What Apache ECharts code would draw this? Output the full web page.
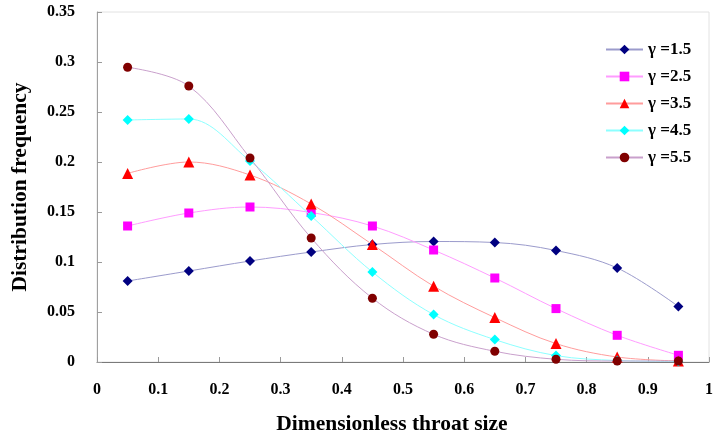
<!DOCTYPE html>
<html>
<head>
<meta charset="utf-8">
<script src="https://cdn.jsdelivr.net/npm/echarts@6/dist/echarts.min.js"></script>
<style>
  html, body { margin: 0; padding: 0; background: #fff; }
  #chart { width: 713px; height: 437px; }
</style>
</head>
<body>
<div id="chart"></div>
<script>
// Dimensionless throat size (bin centres)
const throatSize = [0.05, 0.15, 0.25, 0.35, 0.45, 0.55, 0.65, 0.75, 0.85, 0.95];

// Distribution frequency for each shape parameter gamma
const gamma15 = [0.081, 0.091, 0.101, 0.110, 0.1175, 0.1205, 0.1195, 0.1115, 0.094, 0.0555];
const gamma25 = [0.136, 0.149, 0.155, 0.1495, 0.136, 0.112, 0.084, 0.0534, 0.0267, 0.0067];
const gamma35 = [0.1886, 0.200, 0.187, 0.158, 0.1175, 0.0758, 0.0444, 0.0184, 0.005, 0.001];
const gamma45 = [0.242, 0.243, 0.201, 0.146, 0.090, 0.0474, 0.0224, 0.0064, 0.0015, 0.0005];
const gamma55 = [0.2947, 0.276, 0.204, 0.124, 0.0638, 0.0277, 0.0107, 0.0027, 0.001, 0.001];

const seriesNames = ['γ =1.5', 'γ =2.5', 'γ =3.5', 'γ =4.5', 'γ =5.5'];

const xTicks = { min: 0, max: 1, interval: 0.1 };
const yTicks = { min: 0, max: 0.35, interval: 0.05 };

const serif = '"Liberation Serif", "DejaVu Serif", serif';

const styles = [
  { marker: '#000080', line: '#9b9bcc', symbol: 'diamond', size: 10 },
  { marker: '#ff00ff', line: '#ff9cff', symbol: 'rect', size: 9 },
  { marker: '#ff0000', line: '#ff9c9c', symbol: 'triangle', size: 11 },
  { marker: '#00ffff', line: '#8cffff', symbol: 'diamond', size: 10 },
  { marker: '#800000', line: '#c9a0cc', symbol: 'circle', size: 9 }
];

const allValues = [gamma15, gamma25, gamma35, gamma45, gamma55];

const chart = echarts.init(document.getElementById('chart'), null, { renderer: 'canvas' });

chart.setOption({
  animation: false,
  backgroundColor: '#ffffff',
  grid: {
    left: 97, right: 4, top: 12, bottom: 75,
    outerBoundsMode: 'none',
    containLabel: false,
    show: true, borderColor: '#e2e2e2', borderWidth: 1, backgroundColor: 'transparent'
  },
  legend: {
    orient: 'vertical',
    left: 600,
    top: 36,
    itemWidth: 37,
    itemHeight: 12,
    itemGap: 10,
    textStyle: { fontFamily: serif, fontWeight: 'bold', fontSize: 17, color: '#000' },
    data: seriesNames
  },
  xAxis: {
    type: 'value',
    min: xTicks.min, max: xTicks.max, interval: xTicks.interval,
    name: 'Dimensionless throat size',
    nameLocation: 'middle',
    nameGap: 51,
    nameTextStyle: {
      fontFamily: serif, fontWeight: 'bold', fontSize: 21.5, color: '#000',
      padding: [0, 22, 0, 0]
    },
    axisLine: { lineStyle: { color: '#7a7a7a', width: 1 } },
    axisTick: { inside: true, length: 5, lineStyle: { color: '#9a9a9a' } },
    axisLabel: { fontFamily: serif, fontWeight: 'bold', fontSize: 16, color: '#000', margin: 20 },
    splitLine: { show: false }
  },
  yAxis: {
    type: 'value',
    min: yTicks.min, max: yTicks.max, interval: yTicks.interval,
    name: 'Distribution frequency',
    nameLocation: 'middle',
    nameGap: 66,
    nameTextStyle: { fontFamily: serif, fontWeight: 'bold', fontSize: 21.5, color: '#000' },
    axisLine: { show: true, lineStyle: { color: '#a0a0a0', width: 1 } },
    axisTick: { show: true, inside: true, length: 5, lineStyle: { color: '#9a9a9a' } },
    axisLabel: {
      fontFamily: serif, fontWeight: 'bold', fontSize: 16, color: '#000', margin: 22,
      padding: [7, 0, 0, 0]
    },
    splitLine: { show: false }
  },
  series: allValues.map((vals, i) => ({
    name: seriesNames[i],
    type: 'line',
    smooth: 0.35,
    data: throatSize.map((x, j) => [x, vals[j]]),
    symbol: styles[i].symbol,
    symbolSize: styles[i].size,
    lineStyle: { color: styles[i].line, width: 1 },
    itemStyle: { color: styles[i].marker },
    z: 2 + i
  }))
});
</script>
</body>
</html>
